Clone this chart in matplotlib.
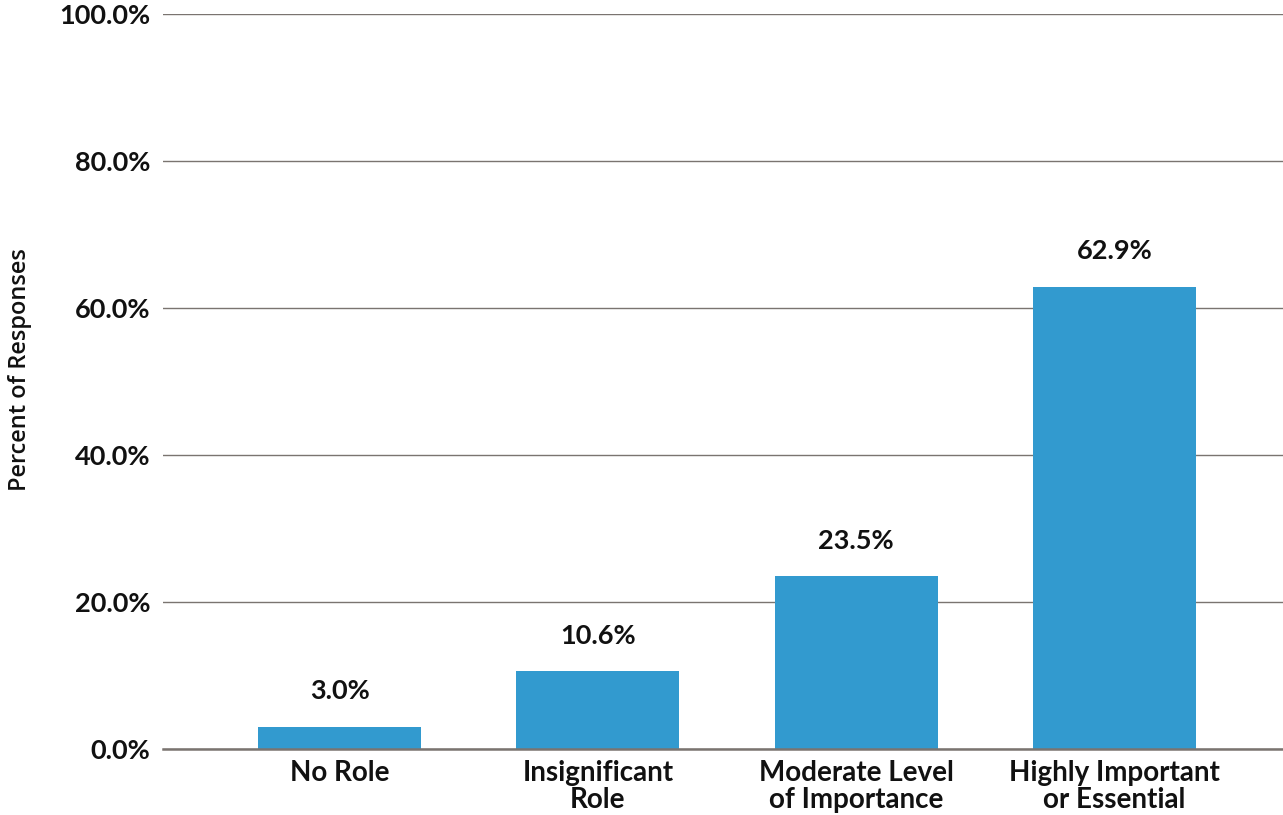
import matplotlib
matplotlib.use("Agg")
import matplotlib.pyplot as plt

categories = ["No Role", "Insignificant\nRole", "Moderate Level\nof Importance", "Highly Important\nor Essential"]
values = [3.0, 10.6, 23.5, 62.9]
yticks = [0, 20, 40, 60, 80, 100]

plt.rcParams['font.family'] = ['Lato', 'DejaVu Sans']
FS = 20
W = 'bold'

fig = plt.figure(figsize=(12.83, 8.15), dpi=100)
ax = fig.add_axes([163/1283, 66/815, 1 - 163/1283, (749-14)/815])

x = list(range(len(categories)))
ax.bar(x, values, width=0.632, color="#329ACF", zorder=3)
for xi, v in zip(x, values):
    ax.text(xi, v + 3.2, f"{v:.1f}%", ha="center", va="bottom", fontsize=19.5, fontweight=W, color="#111111")

ax.set_xlim(-0.684, 3.653)
ax.set_ylim(0, 100)
ax.set_yticks(yticks)
ax.set_yticklabels([f"{t:.1f}%" for t in yticks], fontsize=19.5, fontweight=W, color="#111111")
ax.set_xticks(x)
ax.set_xticklabels(categories, fontsize=FS, fontweight=W, color="#111111", linespacing=1.02)
ax.tick_params(axis="both", length=0)
ax.tick_params(axis="y", pad=9)
ax.tick_params(axis="x", pad=8)
ax.yaxis.grid(True, color="#7a7470", linewidth=1.0, zorder=0)
for s in ["top", "right", "left"]:
    ax.spines[s].set_visible(False)
ax.spines["bottom"].set_color("#7a7470")
ax.spines["bottom"].set_linewidth(1.8)
ax.spines["bottom"].set_zorder(4)
ax.set_ylabel("Percent of Responses", fontsize=17, fontweight='semibold', family=['Open Sans', 'DejaVu Sans'], color="#111111")
ax.yaxis.set_label_coords(-0.117, 0.516)

fig.savefig("out.png", dpi=100)
